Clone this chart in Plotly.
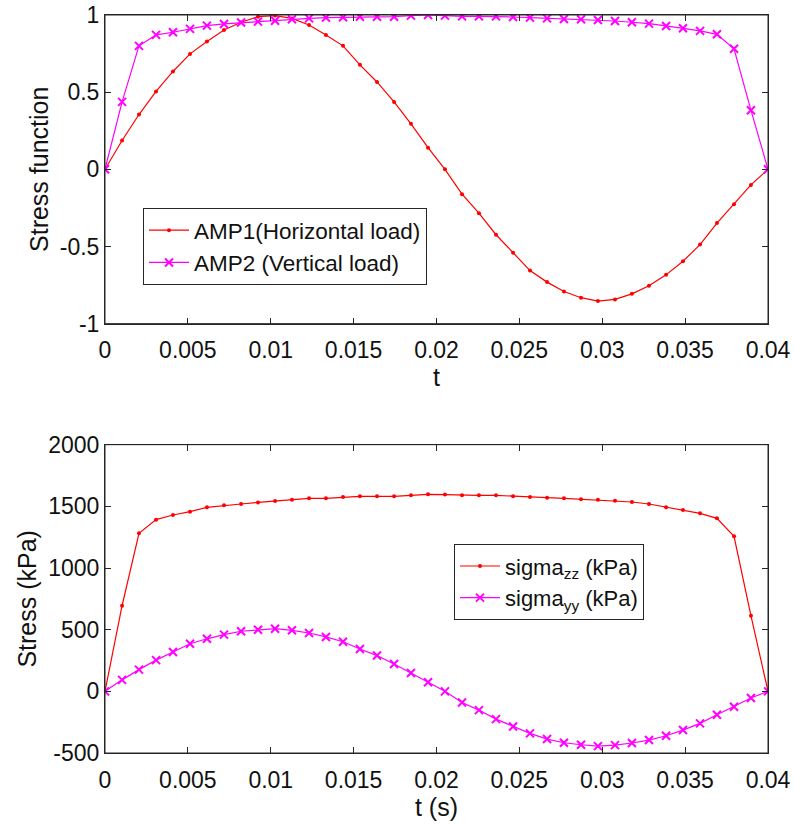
import plotly.graph_objects as go

# time samples (40 points from 0 to 0.04 s)
t = [0.0, 0.00103, 0.00205, 0.00308, 0.0041, 0.00513, 0.00615, 0.00718, 0.00821, 0.00923,
     0.01026, 0.01128, 0.01231, 0.01333, 0.01436, 0.01538, 0.01641, 0.01744, 0.01846, 0.01949,
     0.02051, 0.02154, 0.02256, 0.02359, 0.02462, 0.02564, 0.02667, 0.02769, 0.02872, 0.02974,
     0.03077, 0.03179, 0.03282, 0.03385, 0.03487, 0.0359, 0.03692, 0.03795, 0.03897, 0.04]

amp1 = [0.0, 0.187, 0.355, 0.505, 0.634, 0.748, 0.828, 0.903, 0.953, 0.989,
        0.996, 0.978, 0.935, 0.871, 0.80, 0.677, 0.566, 0.437, 0.295, 0.14,
        0.0, -0.161, -0.284, -0.424, -0.54, -0.656, -0.731, -0.792, -0.832, -0.854,
        -0.843, -0.807, -0.755, -0.684, -0.596, -0.488, -0.348, -0.226, -0.101, 0.0]

amp2 = [0.0, 0.437, 0.80, 0.871, 0.888, 0.91, 0.931, 0.942, 0.951, 0.957,
        0.963, 0.972, 0.978, 0.983, 0.985, 0.989, 0.989, 0.989, 0.996, 1.0,
        0.996, 0.991, 0.991, 0.991, 0.987, 0.983, 0.978, 0.974, 0.972, 0.968,
        0.961, 0.953, 0.944, 0.929, 0.914, 0.897, 0.875, 0.781, 0.383, 0.0]

sigma_zz = [0, 694, 1281, 1392, 1430, 1457, 1492, 1508, 1519, 1532,
            1543, 1554, 1565, 1565, 1576, 1581, 1581, 1581, 1589, 1597,
            1595, 1589, 1589, 1589, 1581, 1576, 1570, 1565, 1557, 1554,
            1546, 1535, 1519, 1492, 1470, 1443, 1403, 1257, 613, 0]

sigma_yy = [0, 93, 176, 253, 319, 386, 426, 460, 487, 500,
            508, 495, 473, 441, 402, 343, 290, 221, 149, 74,
            0, -90, -152, -225, -285, -341, -387, -417, -433, -444,
            -436, -419, -395, -360, -314, -260, -190, -125, -54, 0]

x_ticks = [0, 0.005, 0.01, 0.015, 0.02, 0.025, 0.03, 0.035, 0.04]
x_labels = ["0", "0.005", "0.01", "0.015", "0.02", "0.025", "0.03", "0.035", "0.04"]
y1_ticks = [-1, -0.5, 0, 0.5, 1]
y1_labels = ["-1", "-0.5", "0", "0.5", "1"]
y2_ticks = [-500, 0, 500, 1000, 1500, 2000]
y2_labels = ["-500", "0", "500", "1000", "1500", "2000"]

RED = "#FF0000"
MAG = "#FF00FF"
AX = "#262626"
TXT = "#111111"
FONT = "Liberation Sans, Arial, sans-serif"

fig = go.Figure()
fig.add_trace(go.Scatter(x=t, y=amp1, mode="lines+markers", name="AMP1(Horizontal load)",
                         line=dict(color=RED, width=1.2),
                         marker=dict(symbol="circle", size=4, color=RED),
                         xaxis="x", yaxis="y", legend="legend"))
fig.add_trace(go.Scatter(x=t, y=amp2, mode="lines+markers", name="AMP2 (Vertical load)",
                         line=dict(color=MAG, width=1.2),
                         marker=dict(symbol="x-thin", size=8, color=MAG, line=dict(color=MAG, width=2)),
                         xaxis="x", yaxis="y", legend="legend"))
fig.add_trace(go.Scatter(x=t, y=sigma_zz, mode="lines+markers", name="sigma<sub>zz</sub> (kPa)",
                         line=dict(color=RED, width=1.2),
                         marker=dict(symbol="circle", size=4, color=RED),
                         xaxis="x2", yaxis="y2", legend="legend2"))
fig.add_trace(go.Scatter(x=t, y=sigma_yy, mode="lines+markers", name="sigma<sub>yy</sub> (kPa)",
                         line=dict(color=MAG, width=1.2),
                         marker=dict(symbol="x-thin", size=8, color=MAG, line=dict(color=MAG, width=2)),
                         xaxis="x2", yaxis="y2", legend="legend2"))

W, H = 794, 827
ML, MR = 105, 26
MT, MB = 15, H - 752.7
PW, PH = W - ML - MR, H - MT - MB


def ydom(top_px, bot_px):
    return [max(0.0, (H - MB - bot_px) / PH), min(1.0, (H - MB - top_px) / PH)]


def lx(px):
    return (px - ML) / PW


def ly(py):
    return (H - MB - py) / PH


common = dict(showline=True, linecolor=AX, linewidth=1, mirror="ticks", ticks="inside",
              ticklen=6, tickcolor=AX, showgrid=False, zeroline=False, automargin=False,
              ticklabeloverflow="allow",
              tickfont=dict(family=FONT, size=23, color=TXT))

fig.update_layout(
    width=W, height=H,
    margin=dict(l=ML, r=MR, t=MT, b=MB),
    paper_bgcolor="white", plot_bgcolor="white",
    font=dict(family=FONT, color=TXT),
    xaxis=dict(domain=[0, 1], anchor="y", range=[0, 0.04], tickvals=x_ticks, ticktext=x_labels,
               ticklabelstandoff=6,
               title=dict(text="t", font=dict(size=25), standoff=6), **common),
    yaxis=dict(domain=ydom(15, 323.5), anchor="x", range=[-1, 1],
               tickvals=y1_ticks, ticktext=y1_labels,
               title=dict(text="Stress function", font=dict(size=25), standoff=4), **common),
    xaxis2=dict(domain=[0, 1], anchor="y2", range=[0, 0.04], tickvals=x_ticks, ticktext=x_labels,
                ticklabelstandoff=6,
                title=dict(text="t (s)", font=dict(size=25), standoff=6), **common),
    yaxis2=dict(domain=ydom(444.5, 752.7), anchor="x2", range=[-500, 2000],
                tickvals=y2_ticks, ticktext=y2_labels,
                title=dict(text="Stress (kPa)", font=dict(size=25), standoff=4), **common),
    legend=dict(x=lx(143), y=ly(208), xanchor="left", yanchor="top",
                bgcolor="white", bordercolor=AX, borderwidth=1,
                font=dict(family=FONT, size=22.5, color=TXT),
                tracegroupgap=0, itemwidth=40),
    legend2=dict(x=lx(454), y=ly(544), xanchor="left", yanchor="top",
                 bgcolor="white", bordercolor=AX, borderwidth=1,
                 font=dict(family=FONT, size=22, color=TXT),
                 tracegroupgap=0, itemwidth=40),
)

# MATLAB-style box frame around each axes
for xr, yr in (("x domain", "y domain"), ("x2 domain", "y2 domain")):
    fig.add_shape(type="rect", xref=xr, yref=yr, x0=0, x1=1, y0=0, y1=1,
                  line=dict(color=AX, width=1), fillcolor="rgba(0,0,0,0)", layer="above")

# remove the default 8px body margin so the figure sits at the page's top-left corner
fig.write_html("out.html", config={"displayModeBar": False},
               post_script="document.body.style.margin='0';")
